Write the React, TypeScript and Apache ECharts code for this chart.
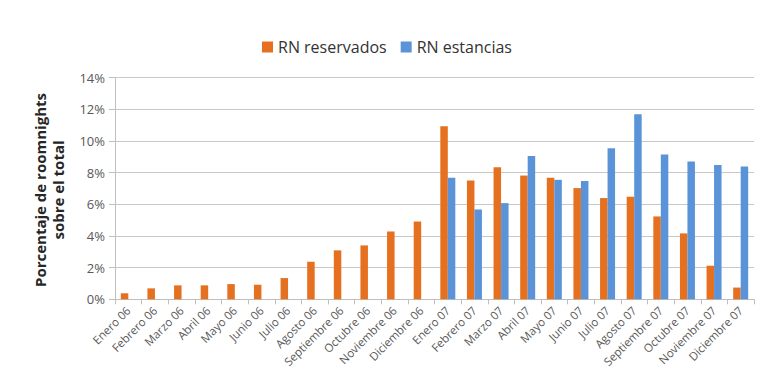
import React, { useEffect, useRef } from "react";
import * as echarts from "echarts";

const categories = [
  "Enero 06", "Febrero 06", "Marzo 06", "Abril 06", "Mayo 06", "Junio 06",
  "Julio 06", "Agosto 06", "Septiembre 06", "Octubre 06", "Noviembre 06", "Diciembre 06",
  "Enero 07", "Febrero 07", "Marzo 07", "Abril 07", "Mayo 07", "Junio 07",
  "Julio 07", "Agosto 07", "Septiembre 07", "Octubre 07", "Noviembre 07", "Diciembre 07",
];

const reservados = [
  0.38, 0.69, 0.88, 0.88, 0.96, 0.92, 1.34, 2.37, 3.09, 3.4, 4.28, 4.91,
  10.92, 7.5, 8.34, 7.81, 7.67, 7.02, 6.39, 6.47, 5.23, 4.16, 2.12, 0.74,
];

const estancias = [
  null, null, null, null, null, null, null, null, null, null, null, null,
  7.67, 5.67, 6.07, 9.05, 7.54, 7.46, 9.54, 11.68, 9.14, 8.7, 8.47, 8.38,
];

const seriesNames = ["RN reservados", "RN estancias"];
const yTitleLines = ["Porcentaje de roomnights", "sobre el total"];
const yTicks = { min: 0, max: 14, interval: 2 };

const FONT = "'Open Sans', Lato, sans-serif";

export default function App() {
  const ref = useRef<HTMLDivElement>(null);
  useEffect(() => {
    if (!ref.current) return;
    const chart = echarts.init(ref.current, undefined, { renderer: "svg" });
    chart.setOption({
      animation: false,
      textStyle: { fontFamily: FONT },
      legend: {
        left: 249,
        top: 26,
        itemWidth: 11,
        itemHeight: 11,
        itemGap: 14,
        icon: "rect",
        textStyle: { fontSize: 16, color: "#333", fontFamily: FONT },
        data: seriesNames,
      },
      graphic: yTitleLines.map((t, i) => ({
        type: "text",
        x: 32 + i * 18,
        y: 182,
        rotation: Math.PI / 2,
        style: {
          text: t,
          align: "center",
          verticalAlign: "middle",
          fontSize: 15,
          fontWeight: "bold",
          fill: "#262626",
          fontFamily: FONT,
        },
      })),
      grid: { left: 107, right: 21, top: 69.5, bottom: 89.7, containLabel: false },
      xAxis: {
        type: "category",
        data: categories,
        boundaryGap: true,
        axisLine: { show: true, lineStyle: { color: "#bfbfbf" } },
        axisTick: { show: true, length: 5, lineStyle: { color: "#bfbfbf" } },
        axisLabel: {
          interval: 0,
          rotate: 45,
          fontSize: 11.5,
          color: "#595959",
          fontFamily: FONT,
          margin: 9,
        },
      },
      yAxis: {
        type: "value",
        min: yTicks.min,
        max: yTicks.max,
        interval: yTicks.interval,
        axisLine: { show: true, lineStyle: { color: "#bfbfbf" } },
        axisTick: { show: true, length: 6, lineStyle: { color: "#bfbfbf" } },
        axisLabel: {
          formatter: "{value}%",
          fontSize: 13,
          color: "#595959",
          fontFamily: FONT,
          margin: 10,
        },
        splitLine: { show: true, lineStyle: { color: "#c8c8c8" } },
      },
      series: [
        {
          name: seriesNames[0],
          type: "bar",
          data: reservados,
          barWidth: 7.5,
          barGap: "0%",
          itemStyle: { color: "#E5701F" },
        },
        {
          name: seriesNames[1],
          type: "bar",
          data: estancias,
          barWidth: 7.5,
          barGap: "0%",
          itemStyle: { color: "#5A93D8" },
        },
      ],
    });
    return () => chart.dispose();
  }, []);
  return <div ref={ref} style={{ width: 767, height: 381 }} />;
}
